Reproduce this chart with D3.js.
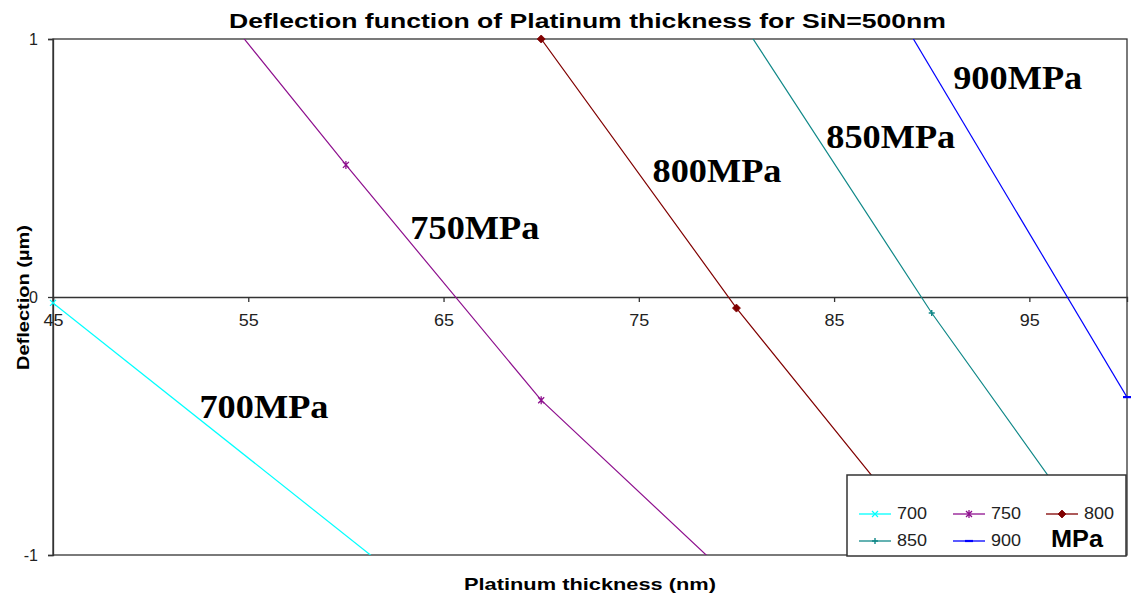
<!DOCTYPE html>
<html>
<head>
<meta charset="utf-8">
<script src="https://cdnjs.cloudflare.com/ajax/libs/d3/7.8.5/d3.min.js"></script>
<style>
  html, body { margin: 0; padding: 0; background: #fff; }
  svg { display: block; }
</style>
</head>
<body>
<script>
// ---------- data ----------
const seriesNames = ["700", "750", "800", "850", "900"];
const thickness700 = [45, 65];
const deflection700 = [-0.023, -1.225];
const thickness750 = [50, 60, 70, 80];
const deflection750 = [1.45, 0.512, -0.40, -1.11];
const thickness800 = [60, 70, 80, 90, 100];
const deflection800 = [2.1, 1.0, -0.043, -0.98, -1.85];
const thickness850 = [80, 90, 100];
const deflection850 = [1.099, -0.062, -1.12];
const thickness900 = [80, 100];
const deflection900 = [2.15, -0.388];
const xTicks = [45, 55, 65, 75, 85, 95];
const yTicks = [-1, 0, 1];
const labelNames = ["700MPa", "750MPa", "800MPa", "850MPa", "900MPa"];
const labelX = [52.5, 63.3, 75.7, 84.6, 91.1];
const labelY = [-0.43, 0.264, 0.484, 0.616, 0.845];

const colors = ["#00FFFF", "#8E108E", "#800000", "#108888", "#0000FF"];
const markers = ["x", "star", "diamond", "plus", "dash"];

const allX = [thickness700, thickness750, thickness800, thickness850, thickness900];
const allY = [deflection700, deflection750, deflection800, deflection850, deflection900];
const series = seriesNames.map((n, i) => ({
  name: n, color: colors[i], marker: markers[i],
  pts: allX[i].map((x, j) => ({ x, y: allY[i][j] }))
}));

// ---------- layout ----------
const W = 1131, H = 602;
const L = 53, R = 1127, T = 39, B = 555;
const SANS = "Liberation Sans, Arial, sans-serif";

const svg = d3.select("body").append("svg").attr("width", W).attr("height", H);

const x = d3.scaleLinear().domain([45, 100]).range([L, R]);
const y = d3.scaleLinear().domain([-1, 1]).range([B, T]);

svg.append("defs").append("clipPath").attr("id", "plotclip")
  .append("rect").attr("x", L).attr("y", T).attr("width", R - L).attr("height", B - T);

// plot frame
svg.append("rect").attr("x", L).attr("y", T).attr("width", R - L).attr("height", B - T)
  .attr("fill", "none").attr("stroke", "#333").attr("stroke-width", 1.3);

// y axis
const yAxis = d3.axisLeft(y).tickValues(yTicks).tickSize(5).tickPadding(10).tickFormat(d => String(d));
const yg = svg.append("g").attr("transform", `translate(${L},0)`).call(yAxis);
yg.select(".domain").attr("stroke", "#333").attr("stroke-width", 1.3);
yg.selectAll(".tick line").attr("stroke", "#333").attr("stroke-width", 1.3);
yg.selectAll(".tick text").attr("font-family", SANS).attr("font-size", 16).attr("fill", "#222");

// x axis along zero line
const xAxis = d3.axisBottom(x).tickValues(xTicks).tickSize(5).tickPadding(13).tickFormat(d => String(d));
const xg = svg.append("g").attr("transform", `translate(0,${y(0)})`).call(xAxis);
xg.select(".domain").attr("stroke", "#333").attr("stroke-width", 1.3);
xg.selectAll(".tick line").attr("stroke", "#333").attr("stroke-width", 1.3);
xg.selectAll(".tick text").attr("font-family", SANS).attr("font-size", 16).attr("fill", "#222")
  .attr("textLength", 20).attr("lengthAdjust", "spacingAndGlyphs");

// lines
const line = d3.line().x(d => x(d.x)).y(d => y(d.y));
const plot = svg.append("g").attr("clip-path", "url(#plotclip)");
series.forEach(s => {
  plot.append("path").datum(s.pts).attr("d", line)
    .attr("fill", "none").attr("stroke", s.color).attr("stroke-width", 1.2);
});

function drawMarker(g, type, cx, cy, color) {
  const s = 3;
  if (type === "x") {
    g.append("path").attr("d", `M${cx - s},${cy - s}L${cx + s},${cy + s}M${cx - s},${cy + s}L${cx + s},${cy - s}`)
      .attr("stroke", color).attr("stroke-width", 1.2).attr("fill", "none");
  } else if (type === "star") {
    g.append("path").attr("d", `M${cx - s},${cy - s}L${cx + s},${cy + s}M${cx - s},${cy + s}L${cx + s},${cy - s}M${cx},${cy - s - 1}L${cx},${cy + s + 1}`)
      .attr("stroke", color).attr("stroke-width", 1.3).attr("fill", "none");
  } else if (type === "diamond") {
    const d = 4;
    g.append("path").attr("d", `M${cx},${cy - d}L${cx + d},${cy}L${cx},${cy + d}L${cx - d},${cy}Z`)
      .attr("fill", color).attr("stroke", color).attr("stroke-width", 0.8);
  } else if (type === "plus") {
    g.append("path").attr("d", `M${cx - s},${cy}L${cx + s},${cy}M${cx},${cy - s}L${cx},${cy + s}`)
      .attr("stroke", color).attr("stroke-width", 1.4).attr("fill", "none");
  } else if (type === "dash") {
    g.append("path").attr("d", `M${cx - 4},${cy}L${cx + 4},${cy}`)
      .attr("stroke", color).attr("stroke-width", 2.2).attr("fill", "none");
  }
}

// markers for in-range points
const mk = svg.append("g");
series.forEach(s => {
  s.pts.filter(p => p.x >= 45 && p.x <= 100 && p.y >= -1 && p.y <= 1)
    .forEach(p => drawMarker(mk, s.marker, x(p.x), y(p.y), s.color));
});

// series annotations
labelNames.forEach((t, i) => {
  svg.append("text").attr("x", x(labelX[i])).attr("y", y(labelY[i])).attr("dy", 2)
    .attr("dominant-baseline", "middle")
    .attr("font-family", "Liberation Serif, Times New Roman, serif")
    .attr("font-weight", "bold").attr("font-size", 34).attr("fill", "#000")
    .attr("textLength", 129).attr("lengthAdjust", "spacingAndGlyphs")
    .text(t);
});

// legend
const lg = svg.append("g");
lg.append("rect").attr("x", 847).attr("y", 475).attr("width", 279).attr("height", 81)
  .attr("fill", "#fff").attr("stroke", "#333").attr("stroke-width", 1.5);
const legCols = [859, 953, 1046];
const legRows = [514, 541];
series.forEach((s, i) => {
  const cx = legCols[i % 3], cy = legRows[Math.floor(i / 3)];
  lg.append("line").attr("x1", cx).attr("x2", cx + 32).attr("y1", cy).attr("y2", cy)
    .attr("stroke", s.color).attr("stroke-width", 1.3);
  drawMarker(lg, s.marker, cx + 16, cy, s.color);
  lg.append("text").attr("x", cx + 38).attr("y", cy + 1).attr("dominant-baseline", "middle")
    .attr("font-family", SANS).attr("font-size", 17)
    .attr("textLength", 30).attr("lengthAdjust", "spacingAndGlyphs")
    .attr("fill", "#222").text(s.name);
});
lg.append("text").attr("x", 1051).attr("y", 547)
  .attr("font-family", SANS).attr("font-weight", "bold")
  .attr("font-size", 24).attr("fill", "#000")
  .attr("textLength", 52).attr("lengthAdjust", "spacingAndGlyphs")
  .text("MPa");

// titles
svg.append("text").attr("x", 229).attr("y", 28)
  .attr("font-family", SANS).attr("font-weight", "bold")
  .attr("font-size", 21).attr("fill", "#000")
  .attr("textLength", 717).attr("lengthAdjust", "spacingAndGlyphs")
  .text("Deflection function of Platinum thickness for SiN=500nm");

svg.append("text").attr("x", 464).attr("y", 590)
  .attr("font-family", SANS).attr("font-weight", "bold")
  .attr("font-size", 17).attr("fill", "#000")
  .attr("textLength", 252).attr("lengthAdjust", "spacingAndGlyphs")
  .text("Platinum thickness (nm)");

svg.append("text").attr("transform", `translate(29,370) rotate(-90)`)
  .attr("font-family", SANS).attr("font-weight", "bold")
  .attr("font-size", 17).attr("fill", "#000")
  .attr("textLength", 145).attr("lengthAdjust", "spacingAndGlyphs")
  .text("Deflection (µm)");
</script>
</body>
</html>
